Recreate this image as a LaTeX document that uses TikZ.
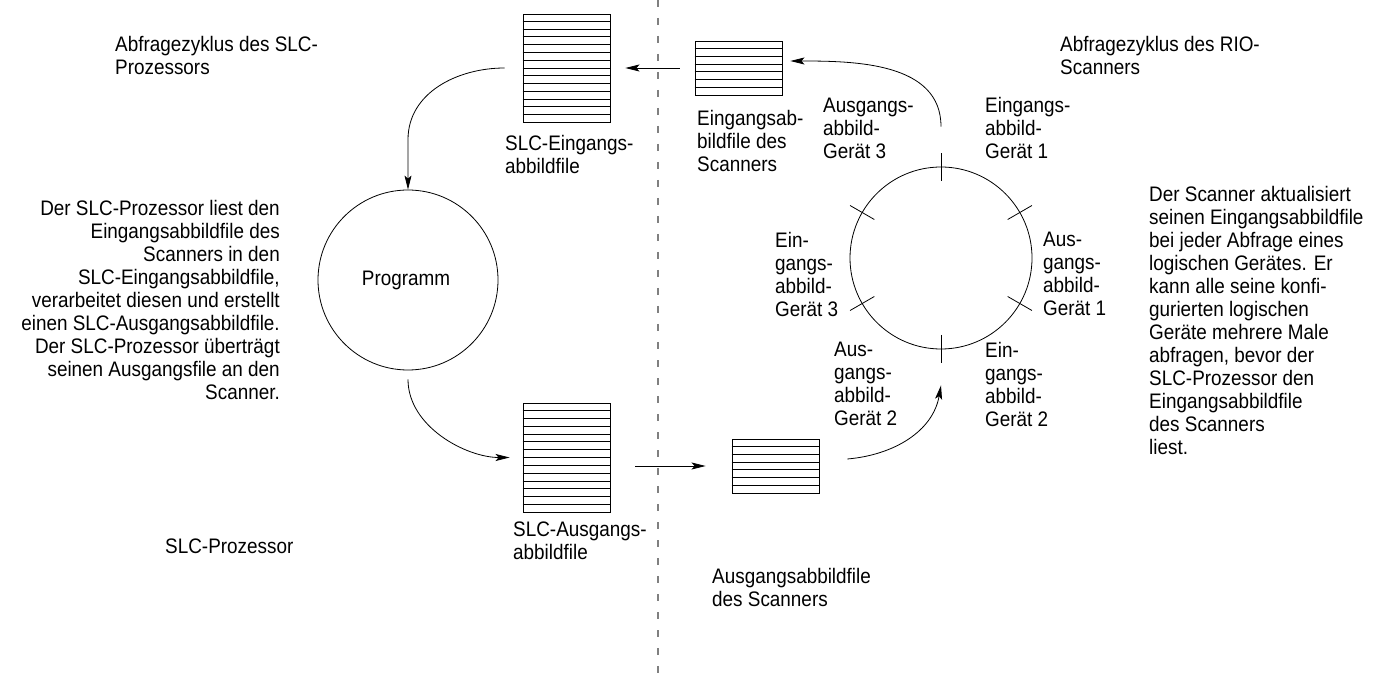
\documentclass[tikz,border=0pt]{standalone}
\usepackage{fontspec}
\setmainfont[FakeStretch=0.9]{Liberation Sans}
\usetikzlibrary{calc,arrows.meta}
% interior lines of a stacked file box: node name, rows, inner lines
\newcommand\filerows[3]{%
  \foreach \i in {1,...,#3}
    \draw[line width=0.9pt] ($(#1.north west)!{\i/#2}!(#1.south west)$) -- ($(#1.north east)!{\i/#2}!(#1.south east)$);}
\begin{document}
\begin{tikzpicture}[x=1pt,y=-1pt,
  every node/.style={inner sep=0pt},
  txt/.style={font=\fontsize{21}{23}\selectfont, align=left, anchor=north west, execute at begin node=\strut},
  txtr/.style={font=\fontsize{21}{23}\selectfont, align=right, anchor=north east, execute at begin node=\strut},
  filebox/.style={draw, line width=0.9pt, minimum width=87pt},
  ring/.style={circle, draw, line width=0.8pt},
  tick/.style={line width=0.8pt},
  arr/.style={draw, line width=0.8pt, -{Stealth[length=14pt,width=7pt,inset=3pt]}},
  sepline/.style={draw=gray, line width=1.3pt, dash pattern=on 7pt off 11pt}]
\useasboundingbox (0,0) rectangle (1386,684);

% separator between SLC processor and RIO scanner
\draw[sepline] (658,0) -- (658,684);

% file images
\node[filebox, minimum height=108pt] (slcin) at (566.5,68) {};
\filerows{slcin}{14}{13}
\node[filebox, minimum height=54pt] (scanin) at (738.5,68) {};
\filerows{scanin}{7}{6}
\node[filebox, minimum height=109pt] (slcout) at (566.5,457.5) {};
\filerows{slcout}{14}{13}
\node[filebox, minimum height=54pt] (scanout) at (775.5,466) {};
\filerows{scanout}{7}{6}

% processor program and scanner cycle
\node[ring, minimum size=180pt] (prog) at (408,280) {};
\node[font=\fontsize{21}{23}\selectfont] (progtxt) at (406,280) {Programm};
\node[ring, minimum size=182pt] (scan) at (941,258) {};
\foreach \a in {90,30,-30,-90,210,150}
  \draw[tick] ($(scan.center)+(\a:77pt)$) -- ($(scan.center)+(\a:105pt)$);

% data flow
\draw[arr, shorten <=15pt, shorten >=15pt] (scanin.west) -- (slcin.east);
\draw[arr] ([xshift=-18pt]slcin.west) to[out=180,in=90] ([yshift=50pt]prog.north) -- (prog.north);
\draw[arr, shorten <=9pt, shorten >=13pt] (prog.south) to[out=-90,in=180] (slcout.west);
\draw[arr] ([xshift=25pt]slcout.east |- scanout.west) -- ([xshift=-26pt]scanout.west);
\draw[arr] ([shift={(28pt,7pt)}]scanout.east) to[out=5,in=-100] ([yshift=-36pt]scan.south);
\draw[arr] ([yshift=40pt]scan.north) to[out=90,in=0] ([shift={(8pt,7pt)}]scanin.east);

% labels
\node[txt] (titleL) at (115,36) {Abfragezyklus des SLC-\\Prozessors};
\node[txt] (titleR) at (1060,36) {Abfragezyklus des RIO-\\Scanners};
\node[txt] (slcinlbl) at (505,135) {SLC-Eingangs-\\abbildfile};
\node[txt] (scaninlbl) at (697,110) {Eingangsab-\\bildfile des\\Scanners};
\node[txt] (out3) at (823,98) {Ausgangs-\\abbild-\\Gerät 3};
\node[txt] (in1) at (985,97) {Eingangs-\\abbild-\\Gerät 1};
\node[txt] (in3) at (775,232) {Ein-\\gangs-\\abbild-\\Gerät 3};
\node[txt] (out1) at (1043,232) {Aus-\\gangs-\\abbild-\\Gerät 1};
\node[txt] (out2) at (834,342) {Aus-\\gangs-\\abbild-\\Gerät 2};
\node[txt] (in2) at (985,342) {Ein-\\gangs-\\abbild-\\Gerät 2};
\node[txtr] (leftpara) at (280,200) {Der SLC-Prozessor liest den\\Eingangsabbildfile des\\Scanners in den\\SLC-Eingangsabbildfile,\\verarbeitet diesen und erstellt\\einen SLC-Ausgangsabbildfile.\\Der SLC-Prozessor überträgt\\seinen Ausgangsfile an den\\Scanner.};
\node[txt] (rightpara) at (1149,186) {Der Scanner aktualisiert\\seinen Eingangsabbildfile\\bei jeder Abfrage eines\\logischen Gerätes. Er\\kann alle seine konfi-\\gurierten logischen\\Geräte mehrere Male\\abfragen, bevor der\\SLC-Prozessor den\\Eingangsabbildfile\\des Scanners\\liest.};
\node[txt] (slcoutlbl) at (513,522) {SLC-Ausgangs-\\abbildfile};
\node[txt] (slcproz) at (165,537) {SLC-Prozessor};
\node[txt] (scanoutlbl) at (712,568) {Ausgangsabbildfile\\des Scanners};
\end{tikzpicture}
\end{document}
